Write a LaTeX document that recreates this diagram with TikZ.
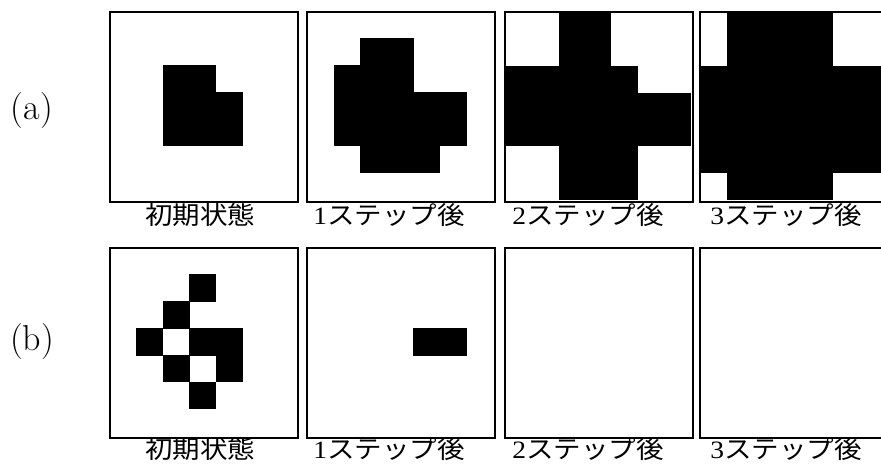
\documentclass[tikz,border=0pt]{standalone}
\usepackage{fontspec}
\usepackage{graphicx}
\newfontfamily\cjk{Noto Sans CJK JP}
\newfontfamily\dig{Liberation Serif}
\begin{document}
\begin{tikzpicture}[x=1pt,y=-1pt]
\tikzset{
  frame/.style={draw=black,line width=2pt,minimum width=188.2pt,minimum height=190.3pt,inner sep=0pt,anchor=north west},
  lab/.style={font=\cjk\fontsize{25}{25}\selectfont,inner sep=0pt},
  tag/.style={font=\fontsize{36}{36}\selectfont,inner sep=0pt},
  blk/.style={fill=black},
  wht/.style={fill=white}
}
\def\cw{26.6}\def\ch{26.9}
\useasboundingbox (0,0) rectangle (881,469);
\clip (0,0) rectangle (881,469);
\fill[white] (0,0) rectangle (881,469);
% ---------- row (a) ----------
% a1
\foreach \c/\r in {2/2,3/2,2/3,3/3,4/3,2/4,3/4,4/4}
  \fill[blk] (109.5+\c*\cw,11.5+\r*\ch) rectangle ++(\cw+0.4,\ch+0.4);
% a2
\foreach \c/\r in {2/1,3/1,1/2,2/2,3/2,1/3,2/3,3/3,4/3,5/3,1/4,2/4,3/4,4/4,5/4,2/5,3/5,4/5}
  \fill[blk] (307+\c*\cw,11.5+\r*\ch) rectangle ++(\cw+0.4,\ch+0.4);
% a3
\fill[blk] (505,11.5) rectangle ++(7*\cw,7*\ch);
\foreach \c/\r in {0/0,1/0,0/1,1/1,4/0,5/0,6/0,4/1,5/1,6/1,5/2,6/2,0/5,1/5,0/6,1/6,5/5,6/5,5/6,6/6}
  \fill[wht] (505+\c*\cw,11.5+\r*\ch) rectangle ++(\cw+0.4,\ch+0.4);
% a4
\fill[blk] (700,11.5) rectangle ++(7*\cw,7*\ch);
\foreach \c/\r in {0/0,0/1,5/0,6/0,5/1,6/1,0/6,5/6,6/6}
  \fill[wht] (700+\c*\cw,11.5+\r*\ch) rectangle ++(\cw+0.4,\ch+0.4);
% ---------- row (b) ----------
% b1
\foreach \c/\r in {3/1,2/2,1/3,3/3,4/3,2/4,4/4,3/5}
  \fill[blk] (109.5+\c*\cw,247.5+\r*\ch) rectangle ++(\cw+0.4,\ch+0.4);
% b2
\foreach \c/\r in {4/3,5/3}
  \fill[blk] (307+\c*\cw,247.5+\r*\ch) rectangle ++(\cw+0.4,\ch+0.4);
% ---------- frames ----------
\node[frame] (fa1) at (108.5,10.5) {};
\node[frame] (fa2) at (306,10.5) {};
\node[frame] (fa3) at (504,10.5) {};
\node[frame] (fa4) at (699,10.5) {};
\node[frame] (fb1) at (108.5,246.5) {};
\node[frame] (fb2) at (306,246.5) {};
\node[frame] (fb3) at (504,246.5) {};
\node[frame] (fb4) at (699,246.5) {};
% ---------- labels ----------
\node[tag] (ta) at (32,111) {(a)};
\node[tag] (tb) at (32,342) {(b)};
\node[lab] (la1) at (200,215) {\scalebox{1.1}[1]{初期状態}};
\node[lab] (la2) at (389,215) {\scalebox{1.1}[1]{{\dig 1}ステップ後}};
\node[lab] (la3) at (588,215) {\scalebox{1.1}[1]{{\dig 2}ステップ後}};
\node[lab] (la4) at (786,215) {\scalebox{1.1}[1]{{\dig 3}ステップ後}};
\node[lab] (lb1) at (200,449) {\scalebox{1.1}[1]{初期状態}};
\node[lab] (lb2) at (389,449) {\scalebox{1.1}[1]{{\dig 1}ステップ後}};
\node[lab] (lb3) at (588,449) {\scalebox{1.1}[1]{{\dig 2}ステップ後}};
\node[lab] (lb4) at (786,449) {\scalebox{1.1}[1]{{\dig 3}ステップ後}};
\end{tikzpicture}
\end{document}
